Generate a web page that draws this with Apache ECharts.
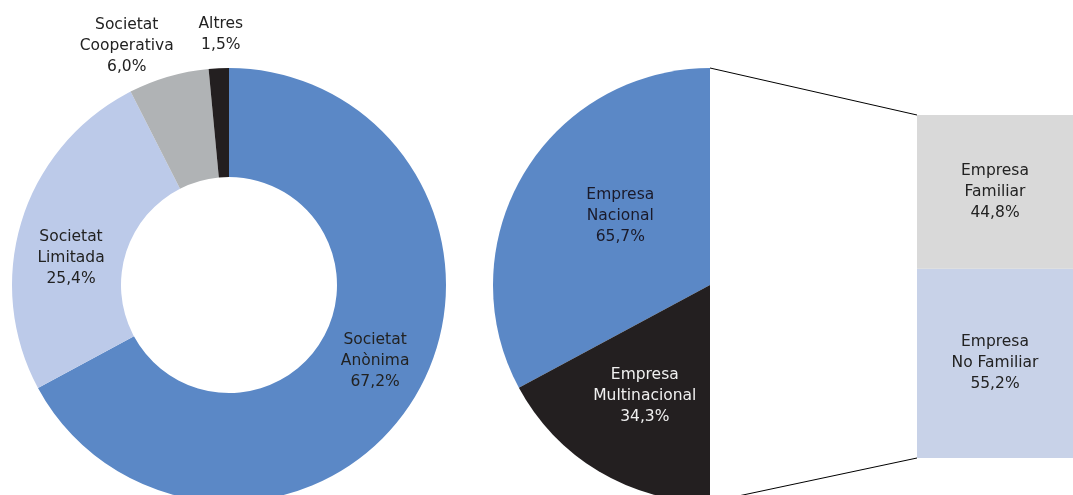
<!DOCTYPE html>
<html>
<head>
<meta charset="utf-8">
<script src="https://cdn.jsdelivr.net/npm/echarts@6/dist/echarts.min.js"></script>
<style>
  html, body { margin: 0; padding: 0; background: #fff; }
  #main { width: 1073px; height: 495px; }
</style>
</head>
<body>
<div id="main"></div>
<script>
// forma jurídica (donut)
const formaNames = ['Societat\nAnònima', 'Societat\nLimitada', 'Societat\nCooperativa', 'Altres']
const formaValues = [67.2, 25.4, 6.0, 1.5]
// origen del capital (mitja pastís)
const origenNames = ['Empresa\nNacional', 'Empresa\nMultinacional']
const origenValues = [65.7, 34.3]
// empresa familiar (barra apilada)
const familiaNames = ['Empresa\nNo Familiar', 'Empresa\nFamiliar']
const familiaValues = [55.2, 44.8]

const FONT = 'DejaVu Sans'
const pct = (v) => v.toFixed(1).replace('.', ',') + '%'

const W = 1073, H = 495
const pieCx = 710, pieCy = 285, pieR = 217
const gridLeft = 917, gridTop = 115, gridBottom = 37

const chart = echarts.init(document.getElementById('main'))

const formaColors = ['#5b88c6', '#bccae9', '#b0b3b5', '#231f20']

const option = {
  animation: false,
  textStyle: { fontFamily: FONT },
  grid: { left: gridLeft, right: 0, top: gridTop, bottom: gridBottom },
  xAxis: { type: 'category', data: ['x'], show: false },
  yAxis: { type: 'value', min: 0, max: 100, show: false },
  // línies que uneixen el mig pastís amb la barra (la barra omple tota la graella)
  graphic: [
    { type: 'line', silent: true, shape: { x1: pieCx, y1: pieCy - pieR, x2: gridLeft, y2: gridTop }, style: { stroke: '#000', lineWidth: 1 } },
    { type: 'line', silent: true, shape: { x1: pieCx, y1: pieCy + pieR, x2: gridLeft, y2: H - gridBottom }, style: { stroke: '#000', lineWidth: 1 } },
  ],
  series: [
    {
      type: 'pie',
      silent: true,
      center: [229, pieCy],
      radius: [108, 217],
      startAngle: 90,
      clockwise: true,
      data: formaValues.map((v, i) => ({
        name: formaNames[i],
        value: v,
        itemStyle: { color: formaColors[i] },
        label: i >= 2 ? { position: 'outside' } : { position: 'inside' },
        labelLine: { show: false, length: 0, length2: 0 },
      })),
      label: {
        fontFamily: FONT,
        fontSize: 15.5,
        lineHeight: 21,
        color: '#222',
        align: 'center',
        overflow: 'none',
        formatter: (p) => p.name + '\n' + pct(p.value),
      },
      labelLayout: (p) => {
        const r = p.rect
        const mid = r.x + r.width / 2
        if (p.dataIndex === 2) return { x: mid - 48, y: r.y - 23, align: 'center', verticalAlign: 'middle' }
        if (p.dataIndex === 3) return { x: mid + 2, y: r.y - 34, align: 'center', verticalAlign: 'middle' }
        if (p.dataIndex === 0) return { dx: 4, dy: -9 }
        return { dy: 22 }
      },
    },
    {
      type: 'pie',
      silent: true,
      center: [pieCx, pieCy],
      radius: [0, pieR],
      startAngle: 90,
      clockwise: false,
      data: origenValues.map((v, i) => ({
        name: origenNames[i],
        value: v,
        itemStyle: { color: i === 0 ? '#5b88c6' : '#231f20' },
        label: { color: i === 0 ? '#1a1a2a' : '#f0f0f0' },
      })).concat([{
        name: 'hidden',
        value: origenValues.reduce((a, b) => a + b, 0),
        itemStyle: { color: 'rgba(0,0,0,0)' },
        label: { show: false },
      }]),
      label: {
        position: 'inside',
        fontFamily: FONT,
        fontSize: 15.5,
        lineHeight: 21,
        formatter: (p) => p.name + '\n' + pct(p.value),
      },
      labelLine: { show: false },
      labelLayout: (p) => (p.dataIndex === 0 ? { dx: 6, dy: -12 } : { dx: -8, dy: 15 }),
    },
    ...familiaValues.map((v, i) => ({
      type: 'bar',
      silent: true,
      stack: 'fam',
      barWidth: '100%',
      itemStyle: { color: i === 0 ? '#c8d2e8' : '#d9d9d9' },
      label: {
        show: true,
        position: 'inside',
        fontFamily: FONT,
        fontSize: 15.5,
        lineHeight: 21,
        color: '#222',
        formatter: () => familiaNames[i] + '\n' + pct(v),
      },
      data: [v],
    })),
  ],
}

chart.setOption(option)
</script>
</body>
</html>
